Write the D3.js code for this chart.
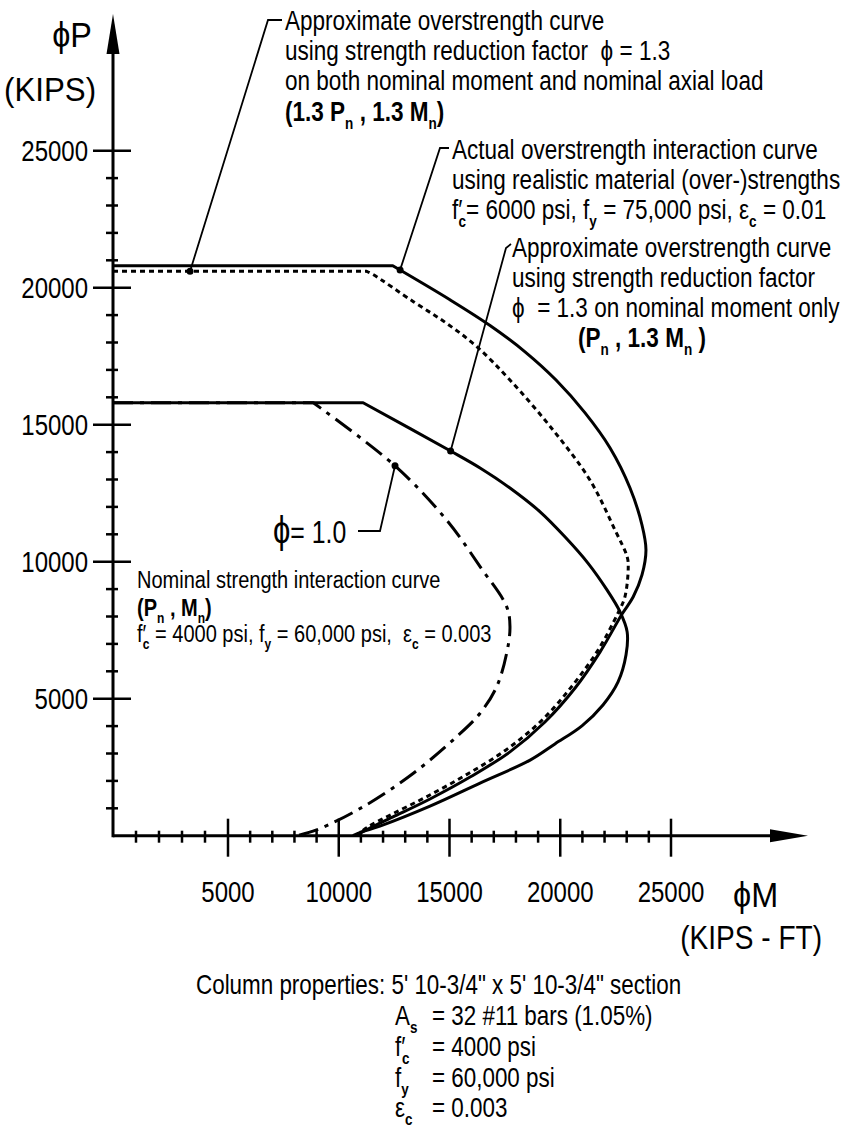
<!DOCTYPE html>
<html><head><meta charset="utf-8">
<script src="https://cdn.jsdelivr.net/npm/d3@7"></script>
<style>body{margin:0;background:#fff}svg{display:block}</style>
</head><body>
<svg id="c" width="844" height="1133"></svg>
<script>
// ---- data (M in kip-ft, P in kips) ----
const nominalM = [0, 8850, 12540, 14870, 16380, 17580, 17730, 17580, 17130, 16380, 15320, 13370, 11110, 9000, 8100];
const nominalP = [15800, 15800, 13500, 11520, 9820, 8360, 7630, 6660, 5440, 4470, 3610, 2280, 1060, 210, 0];

const pn13mnM = [0, 11100, 15050, 16380, 17730, 19090, 20220, 21250, 22110, 22700, 23020, 22970, 22610, 21930, 20980, 19760, 18640, 16380, 14120, 11860, 11050, 10640];
const pn13mnP = [15800, 15800, 14040, 13420, 12690, 11820, 10900, 9950, 8970, 8170, 7440, 6600, 5610, 4770, 4010, 3350, 2760, 1920, 1080, 350, 135, 0];

const actualM = [0, 12440, 15020, 16830, 18410, 19810, 21120, 22250, 23150, 23690, 23870, 23690, 23290, 22790, 21800, 20670, 19310, 17730, 15930, 14120, 12540, 11410, 10730];
const actualP = [20800, 20800, 19560, 18620, 17660, 16630, 15430, 14150, 12690, 11340, 10430, 9520, 8710, 8090, 6710, 5390, 4150, 3060, 2140, 1340, 720, 280, 0];

const both13M = [0, 11260, 11570, 13370, 14870, 16230, 17730, 19670, 21340, 22470, 23020, 23070, 22920, 22610, 21710, 20530, 19180, 17550, 15750, 13940, 12410, 11320, 10780];
const both13P = [20600, 20600, 20470, 19490, 18700, 17850, 16630, 14810, 12980, 11160, 10180, 9820, 8720, 8130, 6780, 5460, 4220, 3130, 2220, 1410, 790, 320, 0];

const majorTicks = [5000, 10000, 15000, 20000, 25000];
const minorTicks = d3.range(1000, 25000, 1000).filter(v => v % 5000 !== 0);

// annotation anchor points on curves (M, P)
const dotBoth = [3350, 20600];
const dotActual = [12770, 20650];
const dotPn13 = [15050, 14040];
const dotNominal = [12540, 13500];

const FONT = "'Liberation Sans', Arial, sans-serif";
const svg = d3.select('#c');

const x = d3.scaleLinear().domain([0, 5000, 25000]).range([113, 228, 671]);
const y = d3.scaleLinear().domain([0, 25000]).range([835.7, 150.7]);

const toPts = (M, P) => M.map((m, i) => [m, P[i]]);
const flat = d3.line().x(d => x(d[0])).y(d => y(d[1]));
const smooth = d3.line().x(d => x(d[0])).y(d => y(d[1])).curve(d3.curveCatmullRom.alpha(0.5));

function curve(pts, dash, w) {
  // straight cap segment, then smooth interaction curve from the corner on
  const d = flat(pts.slice(0, 2)) + smooth(pts.slice(1)).replace(/^M/, 'L');
  svg.append('path').attr('d', d).attr('fill', 'none').attr('stroke', '#000')
    .attr('stroke-width', w).attr('stroke-dasharray', dash).attr('stroke-linejoin', 'round');
}
curve(toPts(pn13mnM, pn13mnP), null, 3);
curve(toPts(actualM, actualP), null, 3);
curve(toPts(nominalM, nominalP), '20,7,4,7', 3);
curve(toPts(both13M, both13P), '5,4', 3);

// ---- axes ----
const ax = svg.append('g').attr('stroke', '#000');
ax.append('line').attr('x1', x(0)).attr('x2', 775).attr('y1', y(0)).attr('y2', y(0)).attr('stroke-width', 3);
ax.append('line').attr('x1', x(0)).attr('x2', x(0)).attr('y1', y(0) + 1.5).attr('y2', 50).attr('stroke-width', 3);
svg.append('path').attr('d', `M808,${y(0)} L770,${y(0) - 6.5} L770,${y(0) + 6.5} Z`).attr('fill', '#000');
svg.append('path').attr('d', `M${x(0)},14 L${x(0) - 6.5},54 L${x(0) + 6.5},54 Z`).attr('fill', '#000');

// x ticks
svg.append('g').selectAll('line').data(majorTicks).join('line')
  .attr('x1', d => x(d)).attr('x2', d => x(d)).attr('y1', y(0) - 17).attr('y2', y(0) + 21)
  .attr('stroke', '#000').attr('stroke-width', 2.5);
svg.append('g').selectAll('line').data(minorTicks).join('line')
  .attr('x1', d => x(d)).attr('x2', d => x(d)).attr('y1', y(0) - 5).attr('y2', y(0) + 7)
  .attr('stroke', '#000').attr('stroke-width', 2.5);
// y ticks
svg.append('g').selectAll('line').data(majorTicks).join('line')
  .attr('y1', d => y(d)).attr('y2', d => y(d)).attr('x1', x(0) - 20).attr('x2', x(0) + 18)
  .attr('stroke', '#000').attr('stroke-width', 2.5);
svg.append('g').selectAll('line').data(minorTicks).join('line')
  .attr('y1', d => y(d)).attr('y2', d => y(d)).attr('x1', x(0) - 7).attr('x2', x(0) + 5)
  .attr('stroke', '#000').attr('stroke-width', 2.5);

// ---- text helper (condensed look through horizontal scaling) ----
function txt(xp, yp, segs, size, sx, anchor) {
  const g = svg.append('g').attr('transform', `translate(${xp},${yp}) scale(${sx},1)`);
  const t = g.append('text').attr('x', 0).attr('y', 0).attr('font-family', FONT)
    .attr('font-size', size).attr('text-anchor', anchor || 'start').style('white-space', 'pre');
  let shift = 0;
  segs.forEach(s => {
    const isStr = typeof s === 'string';
    const str = isStr ? s : s[0];
    const type = isStr ? '' : (s[1] || '');
    const sub = type.includes('sub');
    const target = sub ? 0.3 * size : 0;
    const ts = t.append('tspan').text(str);
    if (target !== shift) ts.attr('dy', target - shift);
    shift = target;
    if (sub) ts.attr('font-size', size * 0.6);
    if (type.includes('b')) ts.attr('font-weight', 'bold');
    if (type.includes('big')) ts.attr('font-size', size * 1.25).attr('font-weight', 300);
    if (!isStr && s[2] !== undefined) ts.attr('dx', s[2]);
  });
  return t;
}

// tick labels
majorTicks.forEach(v => {
  txt(x(v), 902, [String(v)], 30, 0.8, 'middle');
  txt(88, y(v) + 10.5, [String(v)], 30, 0.8, 'end');
});

// axis titles
txt(72, 47, ['ϕP'], 36, 0.9, 'middle');
txt(50, 101, ['(KIPS)'], 34, 0.92, 'middle');
txt(733, 907, ['ϕM'], 36, 0.9);
txt(822, 949, ['(KIPS - FT)'], 33, 0.85, 'end');

const A = 28, AS = 0.805;
// block 1
txt(285, 30, ['Approximate overstrength curve'], A, AS);
txt(285, 60, ['using strength reduction factor  ϕ = 1.3'], A, AS);
txt(285, 90, ['on both nominal moment and nominal axial load'], A, AS);
txt(285, 121, [['(1.3 P', 'b'], ['n', 'bsub'], [' , 1.3 M', 'b'], ['n', 'bsub'], [')', 'b']], A, AS);
// block 2
txt(452, 159, ['Actual overstrength interaction curve'], A, AS);
txt(452, 189, ['using realistic material (over-)strengths'], A, AS);
txt(452, 219, ['f′', ['c', 'sub', -5], '= 6000 psi, f', ['y', 'sub'], ' = 75,000 psi, ε', ['c', 'sub'], ' = 0.01'], A, AS);
// block 3
txt(512, 257, ['Approximate overstrength curve'], A, AS);
txt(512, 287, ['using strength reduction factor'], A, AS);
txt(512, 317, ['ϕ  = 1.3 on nominal moment only'], A, AS);
txt(578, 347, [['(P', 'b'], ['n', 'bsub'], [' , 1.3 M', 'b'], ['n', 'bsub'], [' )', 'b']], A, AS);
// phi = 1.0
txt(273, 543, [['ϕ', 'big'], '= 1.0'], 31, 0.8);
// nominal block
txt(137, 588, ['Nominal strength interaction curve'], 23, 0.87);
txt(137, 616, [['(P', 'b'], ['n', 'bsub'], [' , M', 'b'], ['n', 'bsub'], [')', 'b']], 23, 0.87);
txt(137, 642, ['f′', ['c', 'sub', -4], ' = 4000 psi, f', ['y', 'sub'], ' = 60,000 psi,  ε', ['c', 'sub'], ' = 0.003'], 23, 0.87);
// column properties
const C = 27, CS = 0.83;
txt(196, 994, ['Column properties: 5\' 10-3/4" x 5\' 10-3/4" section'], C, CS);
txt(395, 1025, ['A', ['s', 'sub']], C, CS); txt(432, 1025, ['= 32 #11 bars (1.05%)'], C, CS);
txt(395, 1056, ['f′', ['c', 'sub', -4]], C, CS); txt(432, 1056, ['= 4000 psi'], C, CS);
txt(395, 1087, ['f', ['y', 'sub']], C, CS); txt(432, 1087, ['= 60,000 psi'], C, CS);
txt(395, 1117, ['ε', ['c', 'sub']], C, CS); txt(432, 1117, ['= 0.003'], C, CS);

// ---- leaders ----
function leader(pts) {
  svg.append('path').attr('d', d3.line()(pts)).attr('fill', 'none').attr('stroke', '#000').attr('stroke-width', 1.8);
}
function dot(p) { svg.append('circle').attr('cx', x(p[0])).attr('cy', y(p[1])).attr('r', 3.5).attr('fill', '#000'); }
leader([[282, 20], [268, 20], [x(dotBoth[0]), y(dotBoth[1])]]);
leader([[449, 148], [440, 148], [x(dotActual[0]), y(dotActual[1])]]);
leader([[511, 244], [506, 248], [x(dotPn13[0]), y(dotPn13[1])]]);
leader([[358, 531], [380, 531], [x(dotNominal[0]), y(dotNominal[1])]]);
[dotBoth, dotActual, dotPn13, dotNominal].forEach(dot);
</script>
</body></html>
